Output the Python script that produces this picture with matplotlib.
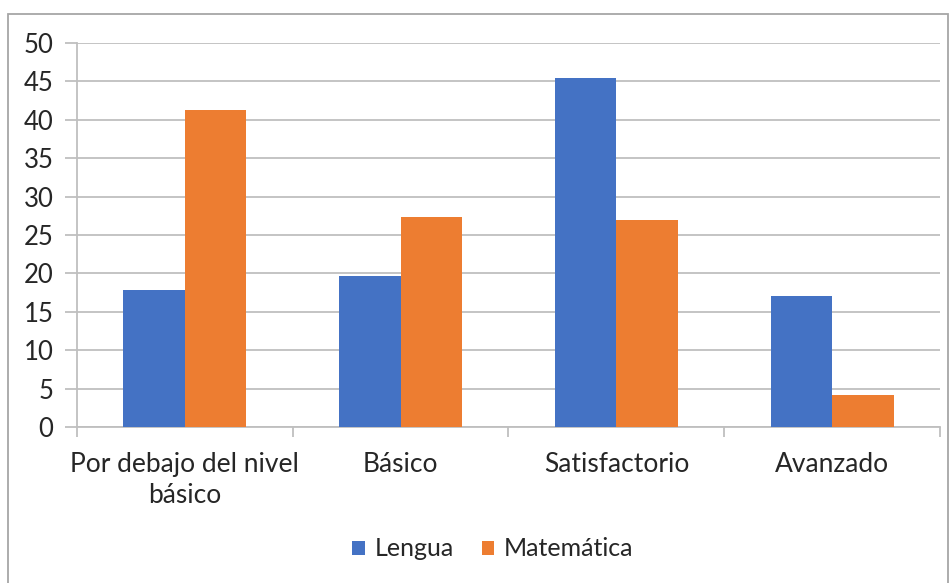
import numpy as np
import matplotlib.pyplot as plt
from matplotlib.patches import Rectangle

plt.rcParams['font.family'] = ['Lato', 'DejaVu Sans']

# Datos
categorias = ['Por debajo del nivel\nbásico', 'Básico', 'Satisfactorio', 'Avanzado']
lengua = [17.9, 19.6, 45.5, 17.1]
matematica = [41.3, 27.4, 27.0, 4.2]
series = ['Lengua', 'Matemática']
colores = ['#4472C4', '#ED7D31']

fig = plt.figure(figsize=(9.53, 5.83), dpi=100)
ax = fig.add_axes([77/953, 1 - 427/583, (940-77)/953, (427-43)/583])

x = np.arange(len(categorias))
w = 0.285
ax.bar(x - w/2, lengua, w, color=colores[0], label=series[0], zorder=3)
ax.bar(x + w/2, matematica, w, color=colores[1], label=series[1], zorder=3)

ax.set_xlim(-0.5, len(categorias) - 0.5)
ax.set_ylim(0, 50)
ax.set_yticks(range(0, 51, 5))
ax.grid(axis='y', color='#BFBFBF', linewidth=1.3, zorder=0)

# ticks del eje x en los bordes de las categorías
ax.set_xticks(np.arange(-0.5, len(categorias), 1))
ax.set_xticklabels([])
ax.set_xticks(x, minor=True)
ax.set_xticklabels(categorias, minor=True, fontsize=19, color='#262626',
                   multialignment='center', linespacing=1.3)
ax.tick_params(axis='x', which='major', length=7, color='#BFBFBF', width=1.3)
ax.tick_params(axis='x', which='minor', length=0, pad=18)
ax.tick_params(axis='y', length=9, color='#BFBFBF', width=1.3, labelsize=18.5,
               labelcolor='#262626', pad=8)

for s in ['top', 'right']:
    ax.spines[s].set_visible(False)
for s in ['left', 'bottom']:
    ax.spines[s].set_color('#BFBFBF')
    ax.spines[s].set_linewidth(1.3)

leg = fig.legend(loc='center', bbox_to_anchor=(493/953, 1 - 549/583), ncol=2, frameon=False,
                 fontsize=18, handlelength=0.5, handleheight=0.5, columnspacing=1.1,
                 handletextpad=0.4)
for t in leg.get_texts():
    t.set_color('#262626')

# marco exterior
fig.patches.append(Rectangle((8/953, -0.01), (948-8)/953, 1 - 14/583 + 0.01,
                             transform=fig.transFigure, fill=False,
                             edgecolor='#A6A6A6', linewidth=1.3))

fig.savefig('out.png', dpi=100)
